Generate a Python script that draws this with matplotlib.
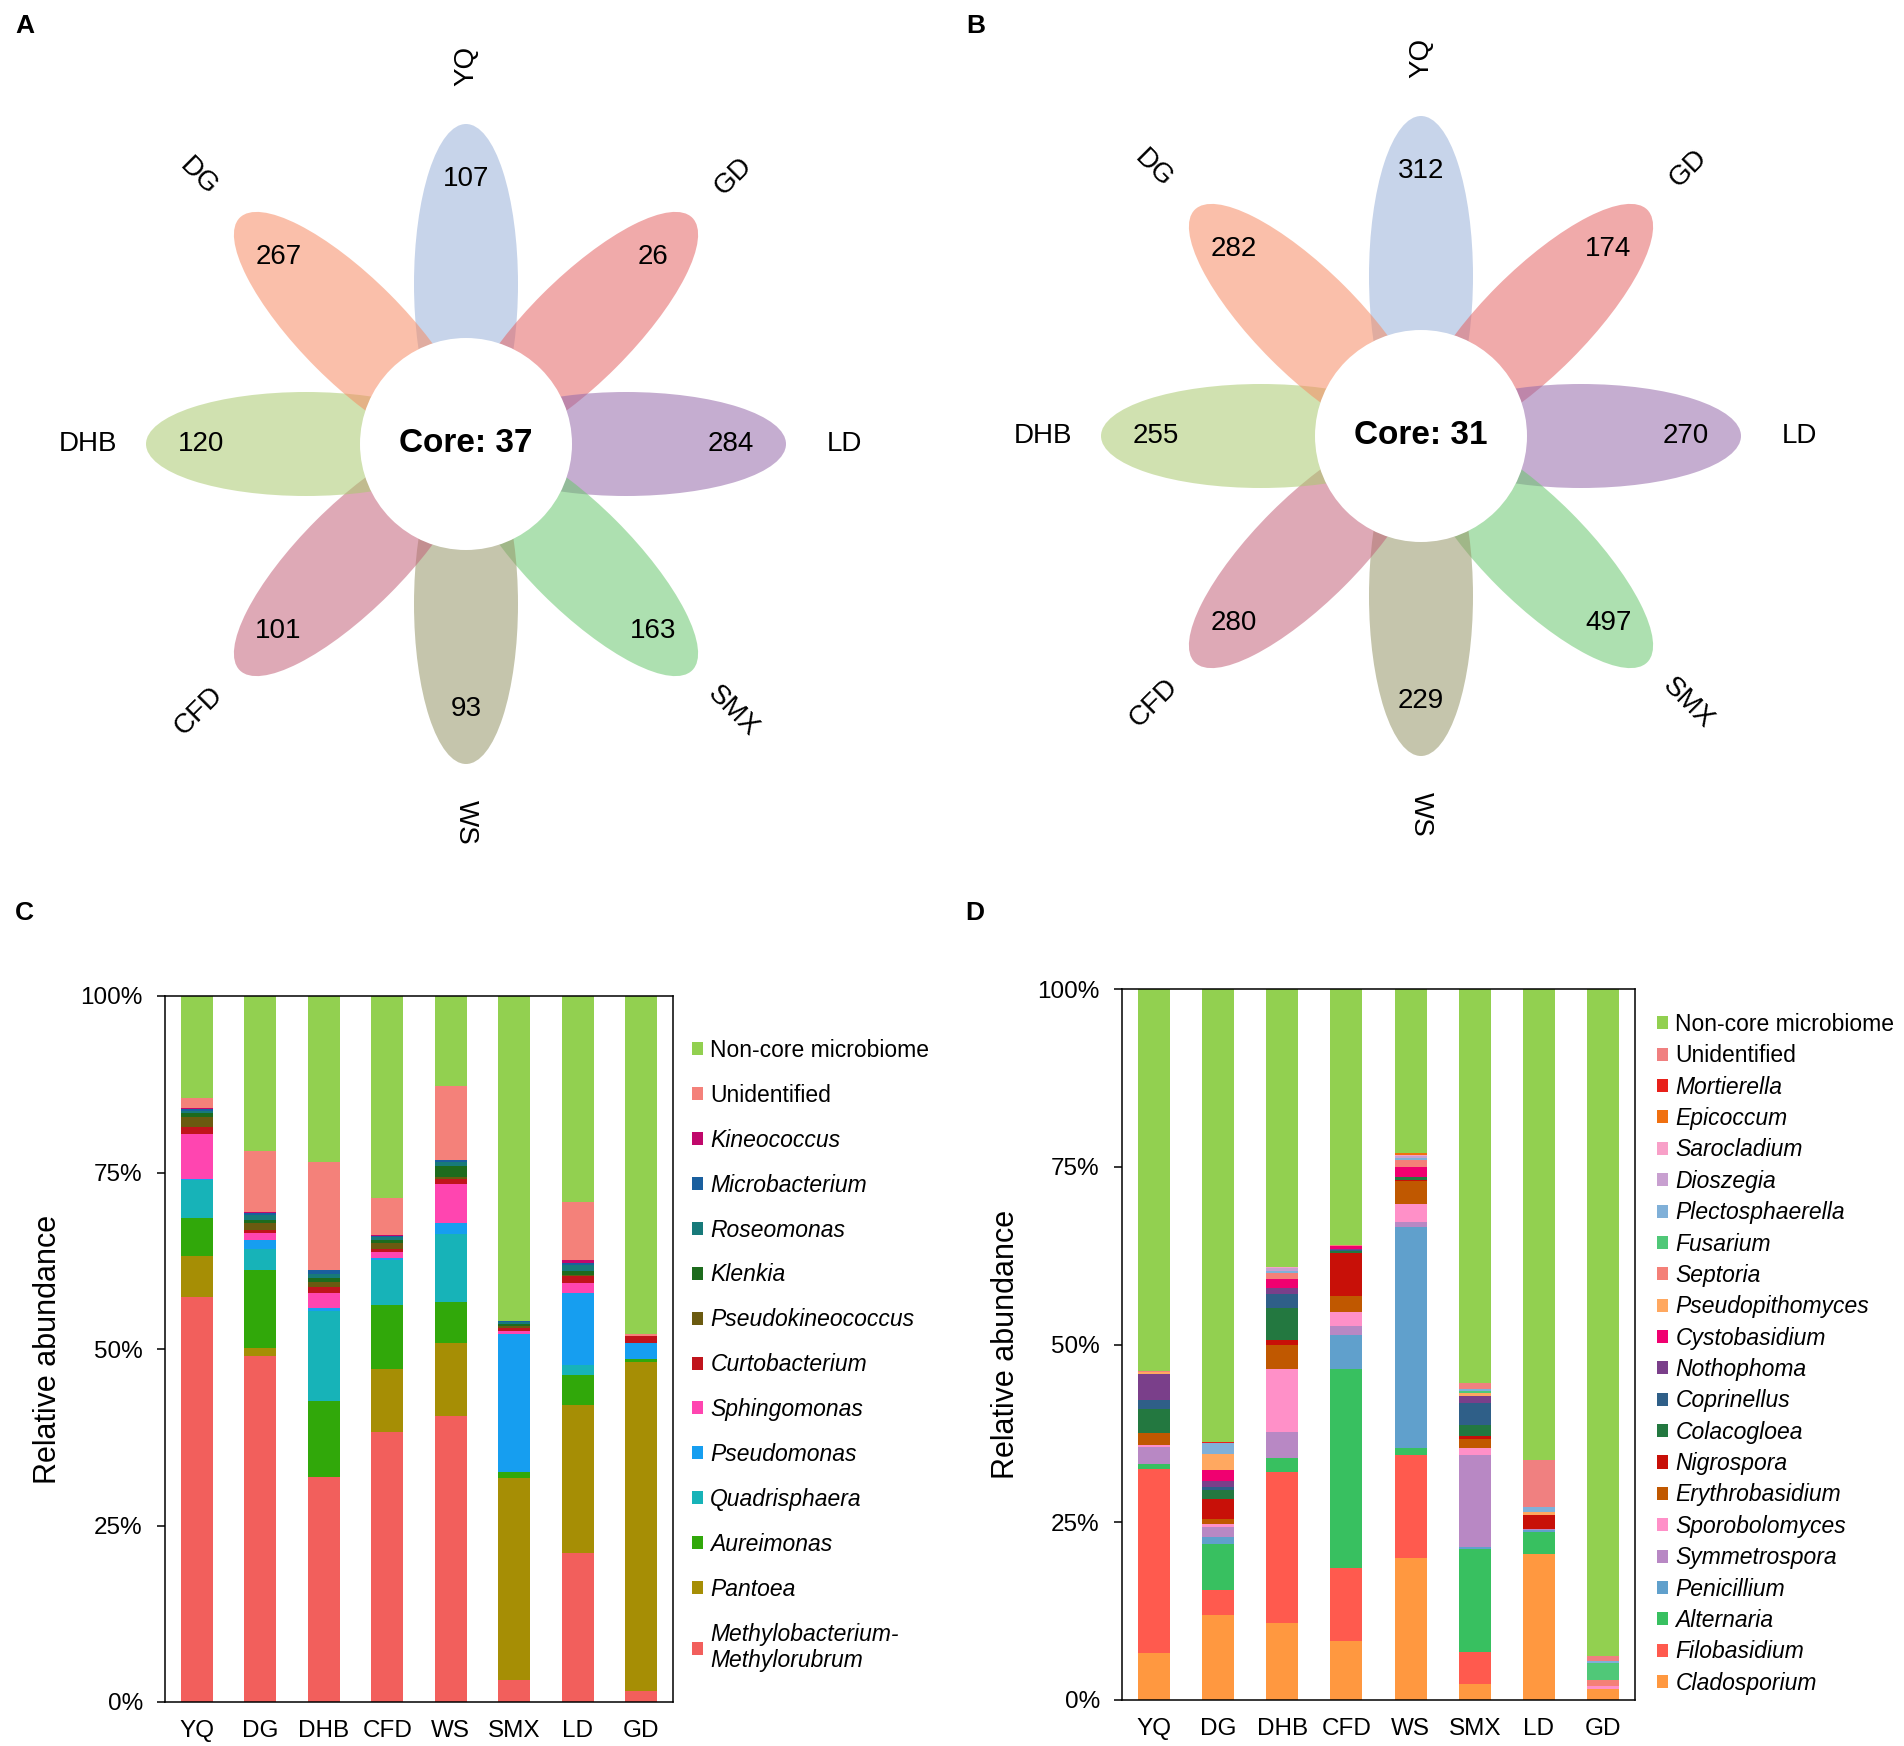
import numpy as np
import matplotlib
matplotlib.use('Agg')
import matplotlib.pyplot as plt
from matplotlib.patches import Ellipse, Circle, Patch

plt.rcParams['font.family'] = ['Liberation Sans', 'DejaVu Sans']

W, H = 1904, 1746

# ---- flower (Venn) data ----
petal_names = ['YQ', 'GD', 'LD', 'SMX', 'WS', 'CFD', 'DHB', 'DG']
petal_angles = [90, 45, 0, -45, -90, -135, 180, 135]
petal_colors = ['#99b1d9', '#e46464', '#966aaa', '#6ac86f', '#969668', '#c3637a', '#aaca6f', '#f68c64']
bact_unique = [107, 26, 284, 163, 93, 101, 120, 267]
fungi_unique = [312, 174, 270, 497, 229, 280, 255, 282]
bact_core = 37
fungi_core = 31

# ---- stacked bar data ----
sites = ['YQ', 'DG', 'DHB', 'CFD', 'WS', 'SMX', 'LD', 'GD']

# bacteria, bottom to top
bact_genera = ['Methylobacterium-\nMethylorubrum', 'Pantoea', 'Aureimonas', 'Quadrisphaera',
               'Pseudomonas', 'Sphingomonas', 'Curtobacterium', 'Pseudokineococcus',
               'Klenkia', 'Roseomonas', 'Microbacterium', 'Kineococcus',
               'Unidentified', 'Non-core microbiome']
bact_colors = ['#f25f5c', '#a68e05', '#31a80a', '#17b3b8', '#169ef0', '#ff45b0', '#c0141c',
               '#6b5a10', '#1d6b1d', '#177a7a', '#1a5f9e', '#c0086b', '#f4817a', '#92d050']
methylo = [57.4, 49.0, 31.9, 38.3, 40.5, 3.1, 21.1, 1.6]
pantoea = [5.8, 1.2, 0.0, 8.9, 10.4, 28.6, 21.0, 46.5]
aureimonas = [5.3, 11.0, 10.8, 9.0, 5.8, 0.9, 4.2, 0.5]
quadrisphaera = [5.4, 2.9, 12.7, 6.4, 9.6, 0.0, 1.4, 0.0]
pseudomonas = [0.2, 1.4, 0.4, 0.3, 1.6, 19.5, 10.2, 2.3]
sphingomonas = [6.4, 1.0, 2.1, 0.9, 5.5, 0.5, 1.4, 0.0]
curtobacterium = [1.0, 0.3, 0.9, 0.3, 0.7, 0.4, 1.0, 1.0]
pseudokineococcus = [1.4, 1.1, 0.7, 0.9, 0.2, 0.2, 0.2, 0.0]
klenkia = [0.5, 0.4, 0.5, 0.5, 1.6, 0.3, 0.5, 0.0]
roseomonas = [0.3, 0.7, 0.6, 0.4, 0.6, 0.3, 0.9, 0.0]
microbacterium = [0.3, 0.3, 0.6, 0.1, 0.2, 0.1, 0.3, 0.0]
kineococcus = [0.1, 0.1, 0.0, 0.1, 0.0, 0.0, 0.4, 0.0]
bact_unident = [1.4, 8.7, 15.3, 5.3, 10.5, 0.0, 8.2, 0.2]
bact_noncore = [14.5, 21.9, 23.5, 28.6, 12.8, 46.1, 29.2, 47.9]
bact_values = [methylo, pantoea, aureimonas, quadrisphaera, pseudomonas, sphingomonas,
               curtobacterium, pseudokineococcus, klenkia, roseomonas, microbacterium,
               kineococcus, bact_unident, bact_noncore]

# fungi, bottom to top
fungi_genera = ['Cladosporium', 'Filobasidium', 'Alternaria', 'Penicillium', 'Symmetrospora',
                'Sporobolomyces', 'Erythrobasidium', 'Nigrospora', 'Colacogloea', 'Coprinellus',
                'Nothophoma', 'Cystobasidium', 'Pseudopithomyces', 'Septoria', 'Fusarium',
                'Plectosphaerella', 'Dioszegia', 'Sarocladium', 'Epicoccum', 'Mortierella',
                'Unidentified', 'Non-core microbiome']
fungi_colors = ['#ff9840', '#ff5a4e', '#38c060', '#60a0cc', '#b888c4', '#ff90c8', '#c05800',
                '#c81008', '#237840', '#2f5f88', '#7a3f8a', '#f00070', '#ffa860', '#f48078',
                '#50c878', '#80b0d8', '#c8a0d0', '#f8a0c8', '#f07010', '#e8201a', '#f08080',
                '#92d050']
cladosporium = [6.6, 11.9, 10.9, 8.3, 20.0, 2.2, 20.6, 1.5]
filobasidium = [25.9, 3.6, 21.1, 10.3, 14.5, 4.5, 0.0, 0.0]
alternaria = [0.7, 6.5, 2.1, 27.9, 1.0, 14.5, 3.0, 0.0]
penicillium = [0.0, 0.9, 0.0, 4.8, 31.0, 0.3, 0.3, 0.0]
symmetrospora = [2.4, 1.4, 3.6, 1.3, 0.7, 12.9, 0.2, 0.0]
sporobolomyces = [0.3, 0.5, 8.8, 2.0, 2.6, 1.0, 0.0, 0.5]
erythrobasidium = [1.7, 0.7, 3.5, 2.2, 3.2, 1.3, 0.0, 0.0]
nigrospora = [0.0, 2.8, 0.7, 6.0, 0.2, 0.4, 1.9, 0.0]
colacogloea = [3.3, 1.2, 4.4, 0.3, 0.3, 1.6, 0.0, 0.0]
coprinellus = [1.3, 0.5, 2.0, 0.2, 0.0, 3.1, 0.0, 0.0]
nothophoma = [3.6, 0.8, 0.8, 0.2, 0.0, 1.0, 0.0, 0.0]
cystobasidium = [0.0, 1.5, 1.3, 0.3, 1.4, 0.0, 0.0, 0.0]
pseudopithomyces = [0.3, 2.3, 0.0, 0.0, 0.0, 0.4, 0.5, 0.0]
septoria = [0.2, 0.0, 0.8, 0.2, 1.1, 0.0, 0.0, 0.8]
fusarium = [0.0, 0.0, 0.0, 0.0, 0.0, 0.3, 0.0, 2.4]
plectosphaerella = [0.0, 1.5, 0.4, 0.0, 0.3, 0.2, 0.6, 0.3]
dioszegia = [0.0, 0.0, 0.3, 0.0, 0.2, 0.0, 0.0, 0.0]
sarocladium = [0.0, 0.0, 0.2, 0.0, 0.1, 0.0, 0.0, 0.0]
epicoccum = [0.0, 0.0, 0.0, 0.0, 0.3, 0.0, 0.0, 0.0]
mortierella = [0.0, 0.2, 0.0, 0.0, 0.0, 0.0, 0.0, 0.0]
fungi_unident = [0.0, 0.0, 0.0, 0.0, 0.0, 0.9, 6.6, 0.7]
fungi_noncore = [53.7, 63.7, 39.1, 36.0, 23.1, 55.4, 66.3, 93.8]
fungi_values = [cladosporium, filobasidium, alternaria, penicillium, symmetrospora,
                sporobolomyces, erythrobasidium, nigrospora, colacogloea, coprinellus,
                nothophoma, cystobasidium, pseudopithomyces, septoria, fusarium,
                plectosphaerella, dioszegia, sarocladium, epicoccum, mortierella,
                fungi_unident, fungi_noncore]

fig = plt.figure(figsize=(W / 100, H / 100), dpi=100)


def px_axes(left, top, right, bottom):
    return fig.add_axes([left / W, 1 - bottom / H, (right - left) / W, (bottom - top) / H])


def flower(cx, cy, counts, core):
    half = 440
    ax = px_axes(cx - half, cy - half, cx + half, cy + half)
    ax.set_xlim(-half, half)
    ax.set_ylim(-half, half)
    ax.axis('off')
    L = 320
    for name, ang, col, n in zip(petal_names, petal_angles, petal_colors, counts):
        t = np.deg2rad(ang)
        ax.add_patch(Ellipse((0.5 * L * np.cos(t), 0.5 * L * np.sin(t)), L, 104,
                             angle=ang, facecolor=col, edgecolor='none', alpha=0.55))
    for name, ang, n in zip(petal_names, petal_angles, counts):
        t = np.deg2rad(ang)
        ax.text(265 * np.cos(t), 265 * np.sin(t), str(n), ha='center', va='center', fontsize=20)
        rot = ang if -90 <= ang <= 90 else ang - 180
        ax.text(378 * np.cos(t), 378 * np.sin(t), name, ha='center', va='center',
                fontsize=20, rotation=rot, rotation_mode='anchor')
    ax.add_patch(Circle((0, 0), 106, facecolor='white', edgecolor='none'))
    ax.text(0, 0, 'Core: %d' % core, ha='center', va='center', fontsize=24, fontweight='bold')


flower(466, 444, bact_unique, bact_core)
flower(1421, 436, fungi_unique, fungi_core)


def stacked(ax, values, names, colors, leg_x, leg_y, spacing, ylab_x):
    x = np.arange(len(sites))
    bottom = np.zeros(len(sites))
    handles = []
    for vals, name, col in zip(values, names, colors):
        vals = np.array(vals)
        ax.bar(x, vals, 0.5, bottom=bottom, color=col, linewidth=0)
        bottom += vals
        handles.append(Patch(facecolor=col, edgecolor='none', label=name))
    ax.set_xlim(-0.5, len(sites) - 0.5)
    ax.set_ylim(0, 100)
    ax.set_xticks(x)
    ax.set_xticklabels(sites, fontsize=17.5)
    ax.set_yticks([0, 25, 50, 75, 100])
    ax.set_yticklabels(['0%', '25%', '50%', '75%', '100%'], fontsize=17.5)
    ax.tick_params(axis='x', length=0, pad=13)
    ax.tick_params(axis='y', length=6, width=1.1, pad=10, direction='out')
    for s in ax.spines.values():
        s.set_linewidth(1.1)
    ax.set_ylabel('Relative abundance', fontsize=22)
    ax.yaxis.set_label_coords(ylab_x, 0.5)
    leg = fig.legend(handles=handles[::-1], loc='upper left',
                     bbox_to_anchor=(leg_x / W, 1 - leg_y / H), bbox_transform=fig.transFigure,
                     frameon=False, fontsize=16.5, handlelength=0.5, handleheight=0.5,
                     handletextpad=0.3, labelspacing=spacing, borderpad=0, borderaxespad=0)
    for t in leg.get_texts():
        if t.get_text() not in ('Unidentified', 'Non-core microbiome'):
            t.set_fontstyle('italic')


axc = px_axes(165, 996, 673, 1702)
stacked(axc, bact_values, bact_genera, bact_colors, 692, 1039, 0.955, -0.2)
axd = px_axes(1122, 989, 1635, 1700)
stacked(axd, fungi_values, fungi_genera, fungi_colors, 1657, 1013, 0.365, -0.196)

for letter, xx, yy in [('A', 25, 26), ('B', 976, 26), ('C', 24, 913), ('D', 975, 913)]:
    fig.text(xx / W, 1 - yy / H, letter, fontsize=19, fontweight='bold', ha='center', va='center')

fig.savefig('out.png', dpi=100)
